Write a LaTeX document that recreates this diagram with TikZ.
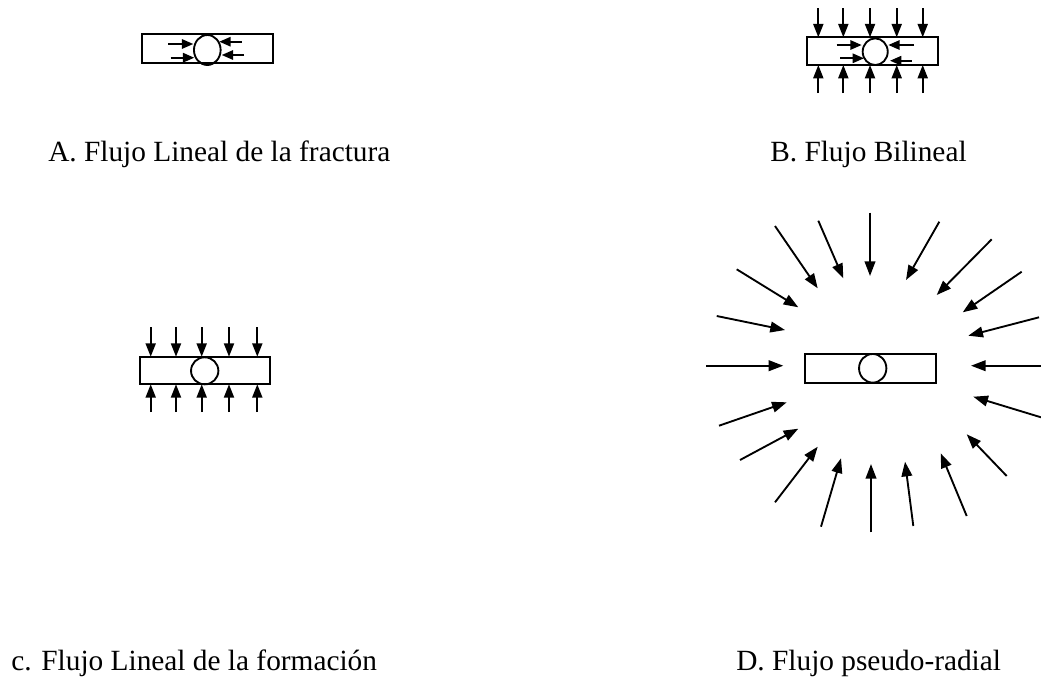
\documentclass[tikz,border=0pt]{standalone}
\usepackage{fontspec}
\setmainfont{Liberation Serif}
\usetikzlibrary{arrows.meta,shapes.geometric}
\begin{document}
\begin{tikzpicture}[x=0.75pt,y=-0.75pt,
  fracbox/.style={draw,line width=1.5pt,rectangle,inner sep=0pt},
  well/.style={draw,line width=1.4pt,ellipse,inner sep=0pt},
  flow/.style={line width=1.4pt,-{Triangle[length=10pt,width=7.5pt]}},
  inflow/.style={line width=1.4pt,-{Triangle[length=8.5pt,width=7pt]}},
  radial/.style={line width=1.4pt,-{Triangle[length=11pt,width=8pt]}},
  caption/.style={anchor=base west,inner sep=0pt,font=\fontsize{22}{26}\selectfont}]
\useasboundingbox[fill=white] (0,0) rectangle (1041,679);

% A: linear flow along the fracture
\node[fracbox,minimum width=97.8pt,minimum height=22pt] (boxA) at (207.5,48.7) {};
\node[well,minimum width=20pt,minimum height=22.5pt] (wellA) at (207.3,50) {};
\draw[inflow] (168.3,44) -- (193.3,44);
\draw[inflow] (170.7,57.7) -- (194.3,57.7);
\draw[inflow] (241.7,41.7) -- (219.3,41.7);
\draw[inflow] (244,55) -- (221.7,55);
\node[caption] (capA) at (48,161.7) {A. Flujo Lineal de la fractura};

% B: bilinear flow
\node[fracbox,minimum width=97.8pt,minimum height=20.8pt] (boxB) at (872.5,51.2) {};
\node[well,minimum width=18.8pt,minimum height=20pt] (wellB) at (875.2,51.7) {};
\foreach \x in {818.3,843.3,870,896.7,922.7}{
  \draw[flow] (\x,8.3) -- (\x,37.3);
  \draw[flow] (\x,93) -- (\x,65);
}
\draw[inflow] (836.7,45) -- (861.7,45);
\draw[inflow] (840,58.3) -- (864,58.3);
\draw[inflow] (914,45) -- (888.3,45);
\draw[inflow] (911.7,60.7) -- (890,60.7);
\node[caption] (capB) at (770,161.7) {B. Flujo Bilineal};

% C: linear flow in the formation
\node[fracbox,minimum width=97.5pt,minimum height=20.7pt] (boxC) at (205,370.5) {};
\node[well,minimum width=20.5pt,minimum height=20.3pt] (wellC) at (204.7,370.8) {};
\foreach \x in {150.7,176,201.7,229,257.3}{
  \draw[flow] (\x,327) -- (\x,356.7);
  \draw[flow] (\x,412) -- (\x,384.3);
}
\node[caption] (capC) at (11,670) {c. Flujo Lineal de la formación};

% D: pseudo-radial flow
\node[fracbox,minimum width=98pt,minimum height=21.5pt] (boxD) at (870.3,368.3) {};
\node[well,minimum width=20.5pt,minimum height=21.5pt] (wellD) at (872.7,368.3) {};
\foreach \xa/\ya/\xb/\yb in {
  870/212.7/870/276,
  818.3/220.7/843.3/278.3,
  775/226/817.7/288.3,
  736.7/269.3/798.3/307.3,
  716.7/316/785/330,
  706/365.7/783.3/365.7,
  719/425.7/786.7/402.3,
  740/460/798.3/428.7,
  775/502.3/817.7/446.7,
  821/526.7/841/458.3,
  871/532.3/871/464,
  913.3/526/905/461.7,
  966.7/516/940.7/453.3,
  1006.7/476/966.7/434.3,
  1041/417.3/973.3/396.7,
  1041/365.7/971/365.7,
  1039/317.3/968.3/335.7,
  1021.7/271.7/962.7/312.3,
  991.7/239.3/936.7/295,
  939.3/221.7/906/280}{
  \draw[radial] (\xa,\ya) -- (\xb,\yb);
}
\node[caption] (capD) at (736,670) {D. Flujo pseudo-radial};
\end{tikzpicture}
\end{document}
